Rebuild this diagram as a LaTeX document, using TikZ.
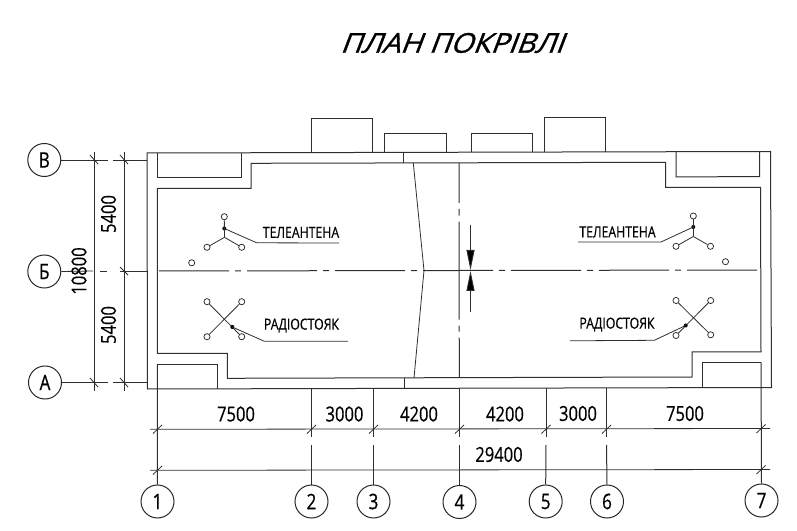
\documentclass[tikz,border=0pt]{standalone}
\usepackage{fontspec}
\usetikzlibrary{arrows.meta}
\setmainfont[FakeStretch=0.8,FakeBold=0.5]{Open Sans}
\newfontfamily\plantitlefont[FakeSlant=0.38,FakeStretch=1.06,FakeBold=1.2]{Open Sans}
\tikzset{every picture/.style={line width=0.75pt}}
\tikzset{
  planline/.style={draw=black!82},
  thinline/.style={draw=black!82,line width=0.6pt},
  axisbub/.style={circle,draw=black!85,minimum size=24.75pt,inner sep=0pt,font=\fontsize{16}{17}\selectfont,text=black},
  dimtext/.style={font=\fontsize{15.5}{16}\selectfont,text=black,inner sep=0pt},
  labeltext/.style={font=\fontsize{11.5}{12}\selectfont,text=black,inner sep=0pt},
  pinhole/.style={circle,draw=black!85,fill=white,minimum size=4.6pt,inner sep=0pt,line width=0.55pt},
  riserdot/.style={circle,fill=black,minimum size=3pt,inner sep=0pt},
  centrebreak/.style={planline,dash pattern=on 30pt off 4.5pt on 5pt off 4.5pt on 73.5pt off 4.5pt on 4.5pt off 4.5pt on 30pt off 100pt},
  axismid/.style={planline,dash pattern=on 52.5pt off 4.5pt on 4.5pt off 4.5pt},
  secarrow/.style={thinline,-{Triangle[length=15pt,width=6pt,fill=black]}}
}

\begin{document}
\begin{tikzpicture}[x=0.75pt,y=0.75pt,yscale=-1,xscale=1]
\useasboundingbox (0,0) rectangle (797,531);

%Title
\node (plantitle) at (451.5,43) [inner sep=0pt] {\plantitlefont\fontsize{20.5}{22}\selectfont ПЛАН ПОКРІВЛІ};

%Outer wall
\draw [planline] (147,153) -- (770.5,151.5) -- (771.5,387.5) -- (147.5,389) -- cycle ;
%Inner contour
\draw [planline] (157.3,188.3) -- (251,188.3) -- (251,163.3) -- (665.7,162.3) -- (665.7,187.3) -- (760.5,187.3) -- (761,352) -- (692,352) -- (692,377) -- (227.3,378.3) -- (227.3,353.3) -- (157.3,353.3) -- cycle ;

%Corner boxes
\draw [planline] (157,153) -- (157,178) -- (241,178) -- (241,153) ;
\draw [planline] (676,152) -- (676,177) -- (759.7,176.5) -- (759.7,152) ;
\draw [planline] (217,389) -- (217,364) -- (157.3,364) ;
\draw [planline] (702,388) -- (702,362.5) -- (761,362.5) ;

%Roof boxes
\draw [planline] (311,153) -- (311,118.3) -- (372.5,118.3) -- (372.5,153) ;
\draw [planline] (384.5,153) -- (384.5,133.5) -- (446.5,133.5) -- (446.5,153) ;
\draw [planline] (471,152.5) -- (471,133.3) -- (532.5,133.3) -- (532.5,152.5) ;
\draw [planline] (544.5,152.5) -- (544.5,117.3) -- (605.5,117.3) -- (605.5,152.5) ;

%Joint and break
\draw [planline] (403,153) -- (403,163) ;
\draw [planline] (404,378) -- (404,388.5) ;
\draw [thinline] (413.3,163) -- (424,270.5) -- (414,378) ;

%Axis bubbles, rows
\node [axisbub] (rowV) at (44.3,160) {В};
\node [axisbub] (rowB) at (44.3,271.5) {Б};
\node [axisbub] (rowA) at (45,382.5) {А};
%Axis bubbles, columns
\node [axisbub] (col1) at (157.5,501.5) {1};
\node [axisbub] (col2) at (311.5,501.5) {2};
\node [axisbub] (col3) at (373.5,501.5) {3};
\node [axisbub] (col4) at (459.5,502) {4};
\node [axisbub] (col5) at (545.7,501.5) {5};
\node [axisbub] (col6) at (607,501.5) {6};
\node [axisbub] (col7) at (761.5,500.5) {7};

%Row axes
\draw [thinline] (rowV.east) -- (108,160) ;
\draw [thinline] (113,160) -- (147,160) ;
\draw [thinline] (rowB.east) -- (93,271) ;
\draw [thinline] (100,271) -- (107,271) ;
\draw [thinline] (120,271) -- (147,271) ;
\draw [axismid] (159,271) -- (760.5,270) ;
\draw [thinline] (rowA.east) -- (108,382.5) ;
\draw [thinline] (113,382.5) -- (147.5,382.5) ;

%Column axes
\draw [planline] (157.3,364) -- (col1.north) ;
\draw [planline] (311.5,389) -- (311.5,437) ;
\draw [planline] (311.5,445) -- (col2.north) ;
\draw [planline] (373.5,389) -- (373.5,437) ;
\draw [planline] (373.5,445) -- (col3.north) ;
\draw [centrebreak] (459,163) -- (459.3,378) ;
\draw [planline] (459.5,388.5) -- (459.5,437) ;
\draw [planline] (459.5,445) -- (col4.north) ;
\draw [planline] (546,388) -- (546,437) ;
\draw [planline] (546,445) -- (col5.north) ;
\draw [planline] (606.5,388) -- (606.5,437) ;
\draw [planline] (606.5,445) -- (col6.north) ;
\draw [planline] (761,362.5) -- (col7.north) ;

%Dimension lines, left
\draw [thinline] (94,152) -- (94,391) ;
\draw [thinline] (124,152) -- (124,391) ;
\draw [thinline] (90,155) -- (98,164) ;
\draw [thinline] (120,155) -- (128,164) ;
\draw [thinline] (120,267) -- (128,275) ;
\draw [thinline] (90,378) -- (98,387) ;
\draw [thinline] (120,378) -- (128,387) ;

%Dimension lines, bottom
\draw [thinline] (150,429.3) -- (770,428.5) ;
\draw [thinline] (150,470.3) -- (770,469.5) ;
\draw [thinline] (153,433.5) -- (162,425) ;
\draw [thinline] (307,433.5) -- (316,425) ;
\draw [thinline] (369,433.5) -- (378,425) ;
\draw [thinline] (455,433.5) -- (464,425) ;
\draw [thinline] (541.5,433.5) -- (550.5,425) ;
\draw [thinline] (602,433.5) -- (611,425) ;
\draw [thinline] (756.5,433) -- (765.5,424.5) ;
\draw [thinline] (153,474.5) -- (162,466) ;
\draw [thinline] (756.5,474) -- (765.5,465.5) ;

%Dimension texts
\node [dimtext,rotate=90] (dimUp) at (108.5,214) {5400};
\node [dimtext,rotate=90] (dimLow) at (108.5,325) {5400};
\node [dimtext,rotate=90] (dimAll) at (79,271) {10800};
\node [dimtext] (dimA) at (236,414) {7500};
\node [dimtext] (dimB) at (344.5,414) {3000};
\node [dimtext] (dimC) at (419,414) {4200};
\node [dimtext] (dimD) at (505,414) {4200};
\node [dimtext] (dimE) at (578,413.5) {3000};
\node [dimtext] (dimF) at (685,413.5) {7500};
\node [dimtext] (dimG) at (499,454.5) {29400};

%Section arrows
\coordinate (secTop) at (470.5,225);
\coordinate (secMid) at (470.5,270);
\coordinate (secMidB) at (470.5,271);
\coordinate (secLow) at (470.5,312);
\draw [secarrow] (secTop) -- (secMid) ;
\draw [secarrow] (secLow) -- (secMidB) ;

%TV antenna, left
\coordinate (tvLj) at (224.5,237.3);
\node [riserdot] (tvLd) at (224.3,228.5) {};
\node [pinhole] (tvLa) at (224.3,216.7) {};
\node [pinhole] (tvLb) at (207,247.3) {};
\node [pinhole] (tvLc) at (241.7,247.3) {};
\draw [thinline] (tvLa) -- (tvLj) ;
\draw [thinline] (tvLb) -- (tvLj) ;
\draw [thinline] (tvLc) -- (tvLj) ;
\coordinate (tvLe) at (256.7,242.8);
\coordinate (tvLf) at (339,243);
\draw [thinline] (tvLd.center) -- (tvLe) -- (tvLf) ;
\node [labeltext] (tvLt) at (301,232.5) {ТЕЛЕАНТЕНА};
\node [pinhole] (holeL) at (191.7,262.8) {};

%TV antenna, right
\coordinate (tvRj) at (693.3,236.5);
\node [riserdot] (tvRd) at (693.3,227) {};
\node [pinhole] (tvRa) at (693.3,216) {};
\node [pinhole] (tvRb) at (676,246.3) {};
\node [pinhole] (tvRc) at (710.5,246.3) {};
\draw [thinline] (tvRa) -- (tvRj) ;
\draw [thinline] (tvRb) -- (tvRj) ;
\draw [thinline] (tvRc) -- (tvRj) ;
\coordinate (tvRe) at (661,242);
\coordinate (tvRf) at (578,242);
\draw [thinline] (tvRd.center) -- (tvRe) -- (tvRf) ;
\node [labeltext] (tvRt) at (617.5,232) {ТЕЛЕАНТЕНА};
\node [pinhole] (holeR) at (725.5,261.7) {};

%Radio riser, left
\node [pinhole] (raLa) at (207,301.7) {};
\node [pinhole] (raLb) at (241.7,301.7) {};
\node [pinhole] (raLc) at (207,336.7) {};
\node [pinhole] (raLd) at (241.7,336.7) {};
\draw [thinline] (raLa) -- (raLd) ;
\draw [thinline] (raLb) -- (raLc) ;
\node [riserdot] (raLp) at (232.3,327) {};
\coordinate (raLe) at (264.3,341.3);
\coordinate (raLf) at (348,341.3);
\draw [thinline] (raLp.center) -- (raLe) -- (raLf) ;
\node [labeltext] (raLt) at (301.5,325.5) {РАДІОСТОЯК};

%Radio riser, right
\node [pinhole] (raRa) at (676,300.5) {};
\node [pinhole] (raRb) at (710.7,300.5) {};
\node [pinhole] (raRc) at (676,335.5) {};
\node [pinhole] (raRd) at (710.7,334.8) {};
\draw [thinline] (raRa) -- (raRd) ;
\draw [thinline] (raRb) -- (raRc) ;
\node [riserdot] (raRp) at (685.7,325.5) {};
\coordinate (raRe) at (654.3,340.3);
\coordinate (raRf) at (570,340.8);
\draw [thinline] (raRp.center) -- (raRe) -- (raRf) ;
\node [labeltext] (raRt) at (617,324.5) {РАДІОСТОЯК};

\end{tikzpicture}
\end{document}
